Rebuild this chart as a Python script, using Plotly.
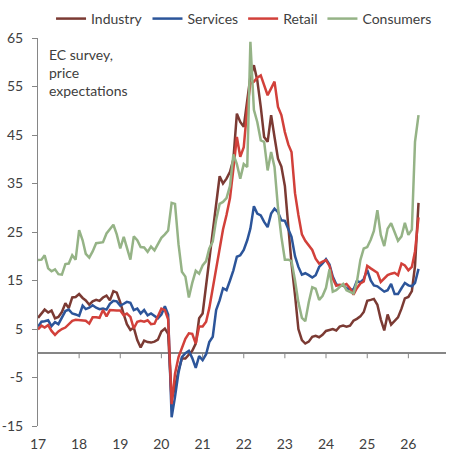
import plotly.graph_objects as go
import pandas as pd

# Monthly observations, Jan 2017 - Apr 2026
months = pd.date_range("2017-01-01", periods=112, freq="MS")

industry = [
    7.3, 8.3, 9.0, 8.4, 8.8, 7.2, 7.5, 8.5, 10.3, 9.3, 11.5, 11.6,
    12.2, 11.4, 10.9, 10.0, 10.7, 11.0, 10.8, 11.5, 11.9, 10.9, 12.8, 12.5,
    10.5, 8.0, 6.0, 4.8, 5.3, 2.7, 1.2, 2.6, 2.3, 2.2, 2.4, 2.8,
    4.5, 5.1, 4.0, -9.5, -7.0, -3.5, -1.1, -1.1, -0.3, 0.5, 2.0, 7.2,
    8.2, 14.0, 20.5, 25.5, 31.5, 36.5, 35.0, 36.0, 37.4, 40.0, 49.4, 47.7,
    46.7, 51.8, 57.0, 59.4, 56.3, 50.8, 44.6, 43.6, 49.1, 44.6, 40.1, 38.5,
    34.5, 26.0, 18.5, 12.0, 5.0, 2.7, 2.0, 2.4, 3.4, 3.6, 3.3, 3.8,
    4.6, 4.8, 5.0, 4.7, 5.5, 5.7, 5.5, 5.7, 6.7, 7.1, 7.6, 8.5,
    10.8, 11.0, 11.2, 10.0, 7.0, 4.7, 8.0, 5.9, 6.6, 7.4, 9.2, 11.3,
    11.6, 12.8, 18.0, 31.0,
]

services = [
    5.5, 6.5, 6.6, 6.8, 5.6, 6.4, 6.0, 7.3, 8.7, 9.0, 8.2, 8.0,
    7.7, 9.8, 9.1, 9.4, 9.9, 9.4, 9.1, 9.2, 9.0, 10.2, 10.8, 10.7,
    9.8, 10.2, 10.6, 10.4, 8.9, 9.2, 8.2, 8.9, 7.8, 8.2, 7.6, 7.2,
    8.0, 9.7, 8.0, -13.2, -9.0, -4.0, -0.8, 0.0, 0.5, -1.0, -3.0, -0.6,
    -1.4, -0.2, 2.3, 3.4, 8.9, 10.9, 13.4, 13.0, 15.0, 17.1, 19.9, 20.2,
    21.3, 23.3, 25.7, 30.3, 28.8, 28.4, 27.1, 26.0, 28.8, 29.8, 29.1, 27.4,
    27.3, 25.7, 24.0, 20.0, 17.8, 16.2, 16.5, 16.1, 15.6, 16.1, 17.8, 18.5,
    19.4, 18.3, 15.8, 14.2, 14.0, 14.0, 13.4, 13.2, 13.1, 14.9, 14.6, 15.3,
    17.2, 15.0, 14.0, 13.8, 13.2, 12.7, 13.0, 14.3, 12.2, 12.2, 13.4, 14.5,
    14.0, 13.8, 14.5, 17.4,
]

retail = [
    4.9, 5.7, 5.3, 5.8, 4.6, 3.8, 4.5, 5.0, 5.3, 6.1, 6.7, 6.9,
    6.8, 6.7, 6.7, 6.1, 7.4, 7.4, 7.3, 8.9, 7.6, 8.9, 8.8, 8.8,
    8.8, 7.8, 8.2, 7.5, 5.1, 6.5, 6.7, 6.5, 6.8, 6.0, 6.1, 7.5,
    9.2, 8.9, 7.0, -10.5, -4.2, -0.8, 1.3, 3.0, 4.1, 4.0, 2.0, 5.5,
    5.5, 6.5, 9.3, 13.5, 18.0, 21.5, 25.5, 28.5, 32.0, 38.0, 44.6, 40.5,
    42.5, 50.5, 55.6, 56.0, 56.8, 57.3, 55.3, 53.2, 54.6, 56.0, 50.8, 49.1,
    45.6, 43.0, 41.5, 33.0, 28.5, 24.5, 23.2, 22.3, 21.3, 19.5, 18.5, 18.9,
    19.2, 18.0, 15.4, 13.9, 14.1, 14.0, 14.3, 13.4, 12.1, 13.4, 14.4, 14.8,
    18.0, 17.5, 17.0, 16.6, 14.7, 15.4, 16.1, 16.4, 16.6, 16.1, 18.5, 18.1,
    17.1, 17.8, 21.0, 28.0,
]

consumers = [
    19.2, 19.3, 20.2, 17.5, 16.9, 17.3, 16.3, 16.2, 18.4, 18.5, 20.2, 19.3,
    25.4, 23.3, 20.5, 19.7, 21.0, 22.7, 22.8, 22.9, 24.7, 25.5, 26.5, 24.5,
    21.6, 24.0, 21.9, 19.3, 24.1, 23.3, 21.9, 21.8, 20.9, 22.0, 21.2, 22.5,
    23.8, 24.5, 25.3, 31.0, 30.8, 22.5, 16.8, 15.8, 11.5, 14.5, 17.0, 16.4,
    18.1, 19.0, 21.6, 23.0, 27.5, 30.8, 31.2, 32.0, 34.5, 41.0, 39.0, 36.0,
    39.0, 38.4, 64.2, 50.2, 47.7, 43.9, 43.6, 37.7, 41.5, 38.4, 30.0, 24.0,
    19.3, 19.3, 19.0, 15.0, 10.5, 7.3, 6.6, 10.5, 13.6, 13.3, 11.0, 11.8,
    13.5, 17.3, 12.7, 13.0, 13.7, 14.3, 13.0, 12.6, 12.3, 14.7, 19.2, 21.6,
    21.9, 23.4, 25.2, 29.5, 24.4, 22.1, 25.7, 26.8, 25.0, 23.2, 24.1, 26.9,
    24.4, 25.5, 43.6, 49.1,
]

series_names = ["Industry", "Services", "Retail", "Consumers"]
series_values = [industry, services, retail, consumers]
colors = ["#7b3a33", "#2c559a", "#d2403a", "#95b386"]

year_ticks = [f"{y}-01-01" for y in range(2017, 2027)]
year_labels = [str(y)[2:] for y in range(2017, 2027)]
y_ticks = [-15, -5, 5, 15, 25, 35, 45, 55, 65]
y_labels = [str(v) for v in y_ticks]

FONT = "Lato"
TXT = "#404040"
AX = "#868686"

fig = go.Figure()
for name, vals, col in zip(series_names, series_values, colors):
    fig.add_trace(go.Scatter(x=months, y=vals, name=name, mode="lines",
                             line=dict(color=col, width=2.5)))

# small tick marks hanging from the zero line
shapes = []
for t in year_ticks[1:]:
    shapes.append(dict(type="line", xref="x", yref="y", x0=t, x1=t,
                       ysizemode="pixel", yanchor=0, y0=0, y1=-5,
                       line=dict(color=AX, width=1)))

fig.update_layout(
    width=460, height=465,
    margin=dict(l=37.5, r=14, t=38, b=39, autoexpand=False),
    plot_bgcolor="white", paper_bgcolor="white",
    font=dict(family=FONT, size=14, color=TXT),
    showlegend=True,
    legend=dict(orientation="h", x=0.505, xanchor="center",
                y=1.049, yanchor="middle", font=dict(size=14, color=TXT),
                bgcolor="rgba(0,0,0,0)"),
    shapes=shapes,
    annotations=[dict(text="EC survey,<br>price<br>expectations",
                      xref="paper", yref="paper", x=0.021, y=0.985,
                      xanchor="left", yanchor="top", showarrow=False,
                      align="left", font=dict(size=14, color=TXT))],
)
fig.update_xaxes(type="date", range=["2017-01-01", "2026-12-01"],
                 tickvals=year_ticks, ticktext=year_labels,
                 showgrid=False, showline=False, ticks="", zeroline=False,
                 automargin=False,
                 ticklabelstandoff=8, tickfont=dict(size=14, color=TXT))
fig.update_yaxes(range=[-15, 65], tickvals=y_ticks, ticktext=y_labels,
                 showgrid=False, showline=True, linecolor=AX, linewidth=1,
                 ticks="outside", ticklen=5, tickcolor=AX, automargin=False,
                 zeroline=True, zerolinecolor=AX, zerolinewidth=1.5,
                 ticklabelstandoff=6, tickfont=dict(size=14, color=TXT))

fig.write_html("out.html")
